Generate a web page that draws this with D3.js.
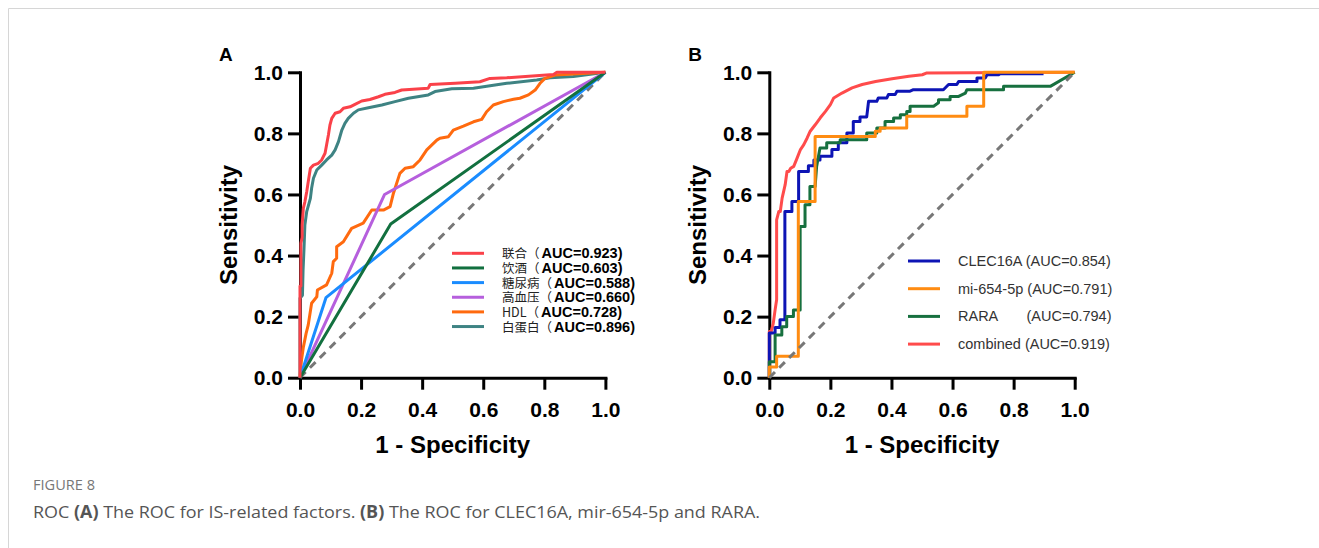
<!DOCTYPE html>
<html>
<head>
<meta charset="utf-8">
<script src="https://cdn.jsdelivr.net/npm/d3@7"></script>
<style>
body { margin: 0; background: #fff; }
</style>
</head>
<body>
<div id="chart"></div>
<script>
// ROC points, each pair is [1 - specificity, sensitivity]

// Panel A - IS-related factors
var lianhe = [[0,0],[0,0.3],[0.003,0.3],[0.003,0.44],[0.007,0.46],[0.007,0.5],[0.011,0.555],[0.016,0.576],[0.022,0.609],[0.027,0.642],[0.034,0.686],[0.044,0.696],[0.060,0.702],[0.071,0.713],[0.082,0.735],[0.087,0.762],[0.093,0.795],[0.098,0.827],[0.104,0.849],[0.115,0.866],[0.131,0.871],[0.142,0.882],[0.164,0.887],[0.180,0.895],[0.202,0.906],[0.229,0.911],[0.257,0.920],[0.278,0.928],[0.311,0.934],[0.333,0.942],[0.420,0.948],[0.426,0.960],[0.508,0.964],[0.589,0.969],[0.622,0.980],[0.677,0.982],[0.830,0.993],[0.841,1],[1,1]];
var yinjiu = [[0,0],[0.297,0.503],[1,1]];
var tangniaobing = [[0,0],[0.085,0.262],[1,1]];
var gaoxueya = [[0,0],[0.277,0.600],[1,1]];
var hdl = [[0,0],[0.005,0.058],[0.011,0.10],[0.020,0.145],[0.027,0.173],[0.038,0.244],[0.055,0.265],[0.057,0.287],[0.087,0.304],[0.104,0.342],[0.109,0.380],[0.120,0.391],[0.120,0.429],[0.142,0.445],[0.169,0.489],[0.207,0.506],[0.235,0.549],[0.273,0.549],[0.295,0.560],[0.306,0.604],[0.327,0.669],[0.344,0.686],[0.371,0.691],[0.393,0.713],[0.415,0.746],[0.448,0.778],[0.458,0.784],[0.486,0.789],[0.502,0.811],[0.535,0.824],[0.568,0.838],[0.595,0.846],[0.611,0.871],[0.633,0.893],[0.666,0.904],[0.699,0.912],[0.720,0.915],[0.748,0.926],[0.770,0.942],[0.786,0.964],[0.802,0.980],[0.835,0.991],[1,1]];
var baidanbai = [[0,0],[0,0.26],[0.008,0.27],[0.010,0.35],[0.013,0.42],[0.016,0.5],[0.022,0.544],[0.034,0.587],[0.038,0.620],[0.044,0.653],[0.055,0.680],[0.071,0.696],[0.087,0.713],[0.104,0.729],[0.115,0.746],[0.126,0.773],[0.137,0.811],[0.147,0.833],[0.158,0.849],[0.175,0.866],[0.191,0.877],[0.224,0.884],[0.268,0.893],[0.311,0.904],[0.355,0.915],[0.420,0.926],[0.442,0.937],[0.497,0.946],[0.568,0.948],[0.677,0.964],[0.775,0.975],[0.819,0.982],[0.895,0.986],[1,1]];

var namesA = ["联合", "饮酒", "糖尿病", "高血压", "HDL", "白蛋白"];
var aucA = ["0.923", "0.603", "0.588", "0.660", "0.728", "0.896"];

// Panel B - genes
var clec16a = [[0,0],[0,0.05],[0,0.146],[0.019,0.146],[0.019,0.164],[0.035,0.164],[0.035,0.19],[0.051,0.19],[0.051,0.544],[0.074,0.544],[0.074,0.577],[0.096,0.577],[0.096,0.675],[0.128,0.675],[0.128,0.694],[0.146,0.694],[0.146,0.713],[0.166,0.713],[0.166,0.725],[0.205,0.725],[0.205,0.747],[0.226,0.747],[0.226,0.769],[0.254,0.769],[0.254,0.801],[0.275,0.801],[0.275,0.839],[0.297,0.839],[0.297,0.854],[0.319,0.854],[0.325,0.905],[0.352,0.905],[0.357,0.916],[0.385,0.916],[0.390,0.927],[0.412,0.927],[0.418,0.938],[0.461,0.938],[0.472,0.943],[0.570,0.943],[0.587,0.960],[0.614,0.960],[0.620,0.970],[0.680,0.970],[0.680,0.981],[0.707,0.981],[0.713,0.992],[0.751,0.992],[0.756,0.995],[0.898,0.995]];
var mir654 = [[0,0],[0,0.035],[0.024,0.035],[0.024,0.07],[0.095,0.07],[0.095,0.577],[0.15,0.577],[0.15,0.79],[0.347,0.79],[0.347,0.807],[0.363,0.807],[0.363,0.818],[0.45,0.818],[0.45,0.856],[0.647,0.856],[0.647,0.889],[0.702,0.889],[0.702,1],[1,1]];
var rara = [[0,0],[0,0.052],[0.019,0.052],[0.019,0.14],[0.041,0.14],[0.041,0.167],[0.057,0.167],[0.057,0.2],[0.079,0.2],[0.079,0.222],[0.101,0.222],[0.101,0.495],[0.117,0.495],[0.117,0.566],[0.133,0.566],[0.133,0.626],[0.150,0.626],[0.155,0.692],[0.166,0.752],[0.188,0.752],[0.188,0.769],[0.232,0.769],[0.232,0.779],[0.319,0.779],[0.319,0.801],[0.352,0.801],[0.352,0.818],[0.379,0.818],[0.379,0.839],[0.407,0.839],[0.407,0.850],[0.429,0.850],[0.429,0.861],[0.450,0.861],[0.450,0.872],[0.461,0.872],[0.461,0.889],[0.538,0.889],[0.554,0.900],[0.554,0.910],[0.592,0.910],[0.592,0.921],[0.620,0.921],[0.642,0.932],[0.647,0.943],[0.767,0.943],[0.767,0.954],[0.920,0.954],[1,1]];
var combined = [[0,0],[0,0.151],[0.006,0.151],[0.013,0.178],[0.019,0.222],[0.024,0.255],[0.024,0.517],[0.031,0.544],[0.036,0.544],[0.042,0.588],[0.052,0.632],[0.058,0.675],[0.064,0.675],[0.070,0.686],[0.080,0.692],[0.091,0.719],[0.102,0.747],[0.113,0.763],[0.124,0.785],[0.134,0.807],[0.151,0.829],[0.167,0.851],[0.184,0.872],[0.200,0.894],[0.211,0.916],[0.238,0.932],[0.271,0.949],[0.304,0.960],[0.348,0.970],[0.402,0.979],[0.457,0.987],[0.501,0.992],[0.516,0.998],[1,1]];

var namesB = ["CLEC16A", "mi-654-5p", "RARA\u00a0\u00a0\u00a0\u00a0\u00a0\u00a0", "combined"];
var aucB = ["0.854", "0.791", "0.794", "0.919"];

var diagonal = [[0,0],[1,1]];
var tickValues = [0, 0.2, 0.4, 0.6, 0.8, 1.0];

var colorsA = ["#fa4149", "#12703f", "#1a8cff", "#b65fdd", "#ff6a0f", "#3e8383"];
var colorsB = ["#0d14b5", "#ff8c12", "#17703f", "#ff4b4b"];

var w = 1319;
var h = 548;
var plotSize = 305.4;
var plotTop = 72.3;
var axisFont = "'Liberation Sans', Arial, sans-serif";

var svg = d3.select("#chart")
            .append("svg")
            .attr("width", w)
            .attr("height", h)
            .style("background", "#fff");

// light page frame
svg.append("path")
    .attr("d", "M8.5," + h + "V8.5H" + w)
    .attr("fill", "none")
    .attr("stroke", "#d6d6d6")
    .attr("stroke-width", 1);

function drawPanel(left, letter, lines, diagOnTop) {
    var x = d3.scaleLinear().domain([0, 1]).range([left, left + plotSize]);
    var y = d3.scaleLinear().domain([0, 1]).range([plotTop + plotSize, plotTop]);
    var g = svg.append("g");

    var line = d3.line()
        .x(function (d) { return x(d[0]); })
        .y(function (d) { return y(d[1]); });

    //axes
    var xAxis = g.append("g")
        .attr("transform", "translate(0," + y(0) + ")")
        .call(d3.axisBottom(x).tickValues(tickValues).tickFormat(d3.format(".1f"))
            .tickSize(12).tickSizeOuter(0).tickPadding(12));
    var yAxis = g.append("g")
        .attr("transform", "translate(" + x(0) + ",0)")
        .call(d3.axisLeft(y).tickValues(tickValues).tickFormat(d3.format(".1f"))
            .tickSize(12).tickSizeOuter(0).tickPadding(5));

    [xAxis, yAxis].forEach(function (a) {
        a.select(".domain").attr("stroke", "#000").attr("stroke-width", 3).attr("stroke-linecap", "square");
        a.selectAll(".tick line").attr("stroke", "#000").attr("stroke-width", 3);
        a.selectAll(".tick text")
            .attr("fill", "#000")
            .attr("font-family", axisFont)
            .attr("font-weight", "bold")
            .attr("font-size", 21);
    });

    var diag = function () {
        g.append("path")
            .attr("d", line(diagonal))
            .attr("fill", "none")
            .attr("stroke", "#777")
            .attr("stroke-width", 3)
            .attr("stroke-dasharray", "8,6");
    };

    if (!diagOnTop) diag();

    lines.forEach(function (l) {
        g.append("path")
            .attr("d", line(l.pts))
            .attr("fill", "none")
            .attr("stroke", l.color)
            .attr("stroke-width", 3)
            .attr("stroke-linejoin", "round");
    });

    if (diagOnTop) diag();

    // titles
    g.append("text")
        .attr("x", left - 81)
        .attr("y", 61)
        .attr("font-family", axisFont)
        .attr("font-weight", "bold")
        .attr("font-size", 19)
        .text(letter);

    g.append("text")
        .attr("x", left + plotSize / 2)
        .attr("y", 453)
        .attr("text-anchor", "middle")
        .attr("font-family", axisFont)
        .attr("font-weight", "bold")
        .attr("font-size", 24)
        .text("1 - Specificity");

    g.append("text")
        .attr("transform", "translate(" + (left - 63) + "," + (plotTop + plotSize / 2) + ")rotate(-90)")
        .attr("text-anchor", "middle")
        .attr("font-family", axisFont)
        .attr("font-weight", "bold")
        .attr("font-size", 24)
        .text("Sensitivity");
}

// Panel A, drawn back to front
drawPanel(300, "A", [
    {pts: baidanbai, color: colorsA[5]},
    {pts: hdl, color: colorsA[4]},
    {pts: gaoxueya, color: colorsA[3]},
    {pts: tangniaobing, color: colorsA[2]},
    {pts: yinjiu, color: colorsA[1]},
    {pts: lianhe, color: colorsA[0]}
], false);

// Panel B
drawPanel(769.3, "B", [
    {pts: combined, color: colorsB[3]},
    {pts: clec16a, color: colorsB[0]},
    {pts: rara, color: colorsB[2]},
    {pts: mir654, color: colorsB[1]}
], true);

// legend A (rows sit tight, as in the original)
var legA = svg.append("g");
namesA.forEach(function (name, i) {
    var cy = 253.3 + i * 14.65;
    legA.append("line")
        .attr("x1", 452).attr("x2", 484)
        .attr("y1", cy).attr("y2", cy)
        .attr("stroke", colorsA[i])
        .attr("stroke-width", 3);
    var t = legA.append("text")
        .attr("x", 502)
        .attr("y", cy + 5);
    t.append("tspan")
        .attr("font-family", "'Noto Sans CJK SC', sans-serif")
        .attr("font-size", 12.5)
        .attr("fill", "#222")
        .text(name + "（");
    t.append("tspan")
        .attr("dx", 2)
        .attr("font-family", axisFont)
        .attr("font-weight", "bold")
        .attr("font-size", 14.5)
        .attr("fill", "#000")
        .text("AUC=" + aucA[i] + ")");
});

// legend B
var legB = svg.append("g");
namesB.forEach(function (name, i) {
    var cy = 261 + i * 27.7;
    legB.append("line")
        .attr("x1", 908).attr("x2", 940)
        .attr("y1", cy).attr("y2", cy)
        .attr("stroke", colorsB[i])
        .attr("stroke-width", 3);
    legB.append("text")
        .attr("x", 958)
        .attr("y", cy + 5)
        .attr("font-family", axisFont)
        .attr("font-size", 14.5)
        .attr("fill", "#333")
        .text(name + " (AUC=" + aucB[i] + ")");
});

// caption
svg.append("text")
    .attr("x", 33)
    .attr("y", 490)
    .attr("font-family", "'Open Sans', sans-serif")
    .attr("font-size", 14.5)
    .attr("fill", "#777")
    .attr("textLength", 62)
    .attr("lengthAdjust", "spacingAndGlyphs")
    .text("FIGURE 8");

var cap = svg.append("text")
    .attr("x", 33)
    .attr("y", 518)
    .attr("font-family", "'Open Sans', sans-serif")
    .attr("font-size", 17)
    .attr("fill", "#555")
    .attr("textLength", 727)
    .attr("lengthAdjust", "spacingAndGlyphs");
cap.append("tspan").text("ROC ");
cap.append("tspan").attr("font-weight", "bold").text("(A)");
cap.append("tspan").text(" The ROC for IS-related factors. ");
cap.append("tspan").attr("font-weight", "bold").text("(B)");
cap.append("tspan").text(" The ROC for CLEC16A, mir-654-5p and RARA.");
</script>
</body>
</html>
